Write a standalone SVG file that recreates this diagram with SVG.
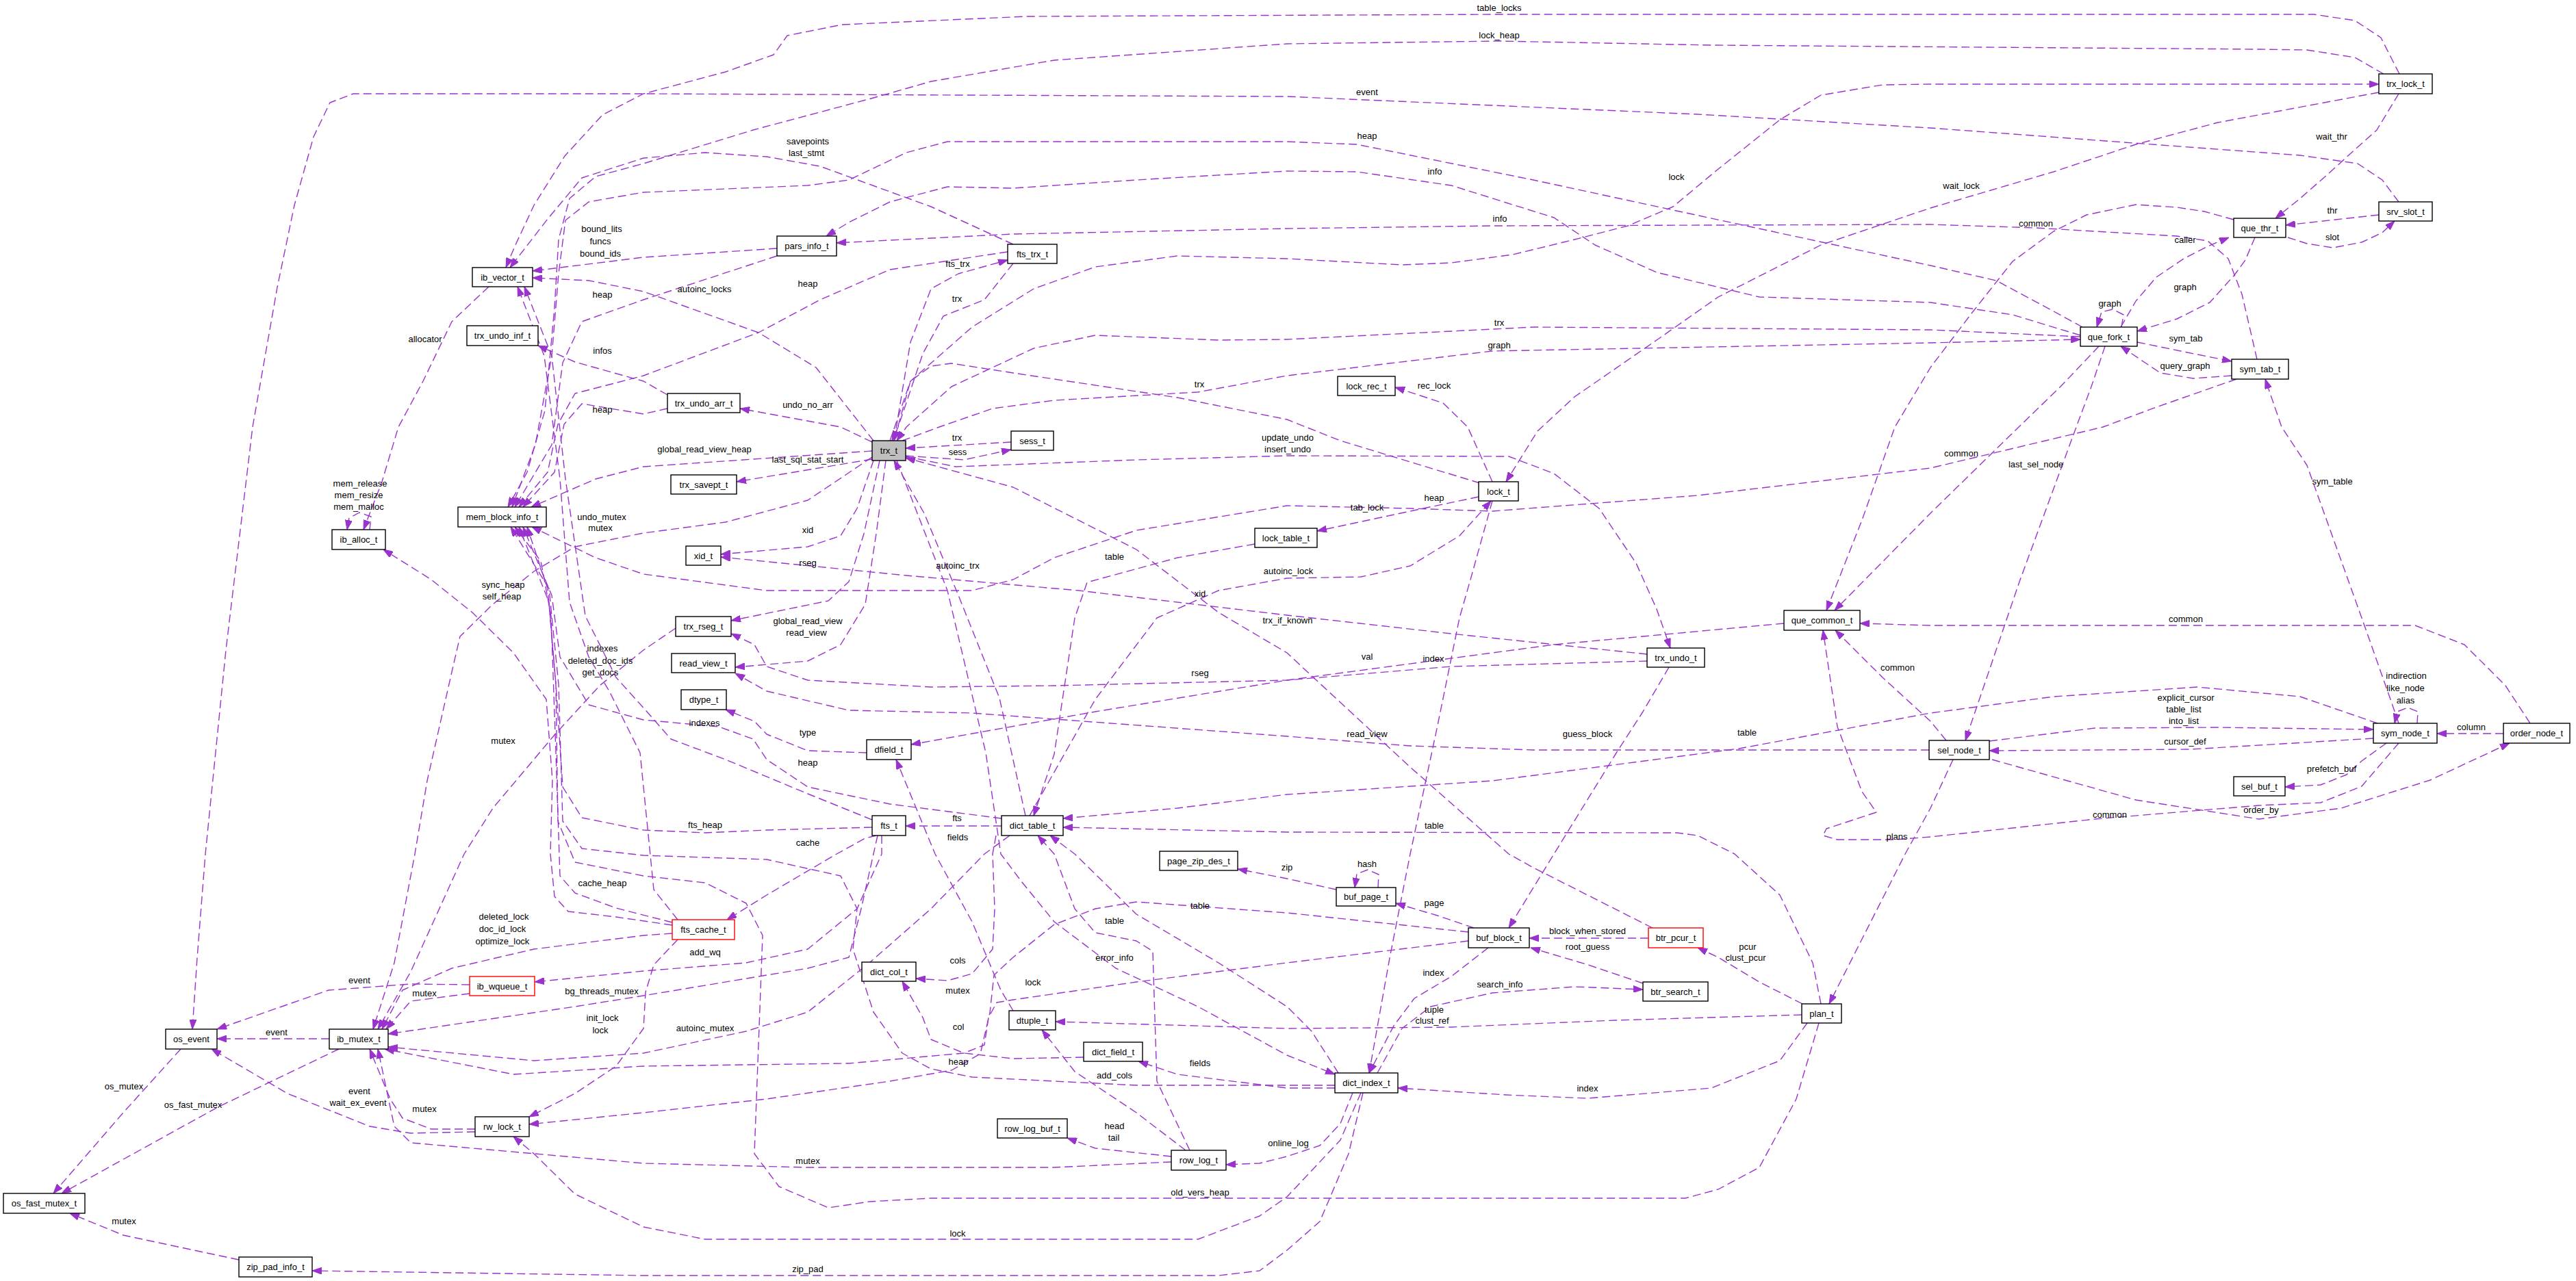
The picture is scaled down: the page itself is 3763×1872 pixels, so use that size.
<svg xmlns="http://www.w3.org/2000/svg" width="3763" height="1872" viewBox="0 0 3763 1872">
<style>
text{font-family:"Liberation Sans",Arial,Helvetica,sans-serif;font-size:13px;fill:#000;text-anchor:middle}
.n rect{fill:#fff;stroke:#000;stroke-width:1.4}
.n.r rect{stroke:#ff0000}
.n.g rect{fill:#bfbfbf}
#connectors path{fill:none;stroke:#9a32cd;stroke-width:1.4;stroke-dasharray:12,6;stroke-linejoin:round;marker-end:url(#a)}
</style>
<defs>
<marker id="a" viewBox="0 0 14 10" refX="14" refY="5" markerWidth="14" markerHeight="10" markerUnits="userSpaceOnUse" orient="auto"><path d="M0,0 L14,5 L0,10 z" fill="#9a32cd" stroke="#9a32cd" stroke-width="1"/></marker>
</defs>
<rect width="3763" height="1872" fill="#fff"/>
<g id="connectors">
<path d="M3505,108 L3478,55 3440,30 3380,21 2190,21 1500,24 1230,36 1150,52 1130,80 1060,105 940,137 880,168 825,228 780,300 752,360 739,391"/>
<path d="M3482,108 L3440,84 3370,73 3300,72 2500,66 2190,60 1880,64 1540,88 1360,119 1276,143 1100,190 940,239 870,258 832,290 816,350 810,450 796,600 770,690 742,741"/>
<path d="M3504,295 L3480,263 3444,239 3360,227 2820,187 2480,167 1880,141 940,137 516,137 482,150 458,200 430,300 405,420 369,624 330,950 300,1248 288,1400 281,1504"/>
<path d="M3042,478 L3000,455 2916,410 2820,388 2240,263 1982,211 1880,207 1384,207 1324,223 1240,263 1180,271 940,281 860,295 826,322 816,400 806,520 782,650 748,741"/>
<path d="M3039,490 L2940,460 2820,442 2570,434 2420,398 2330,358 2270,318 2120,271 1982,251 1880,250 1660,263 1480,275 1384,273 1300,295 1240,325 1207,345"/>
<path d="M3297,525 L3275,430 3255,378 3225,352 3180,345 2974,333 2820,328 2180,330 1880,334 1480,342 1222,355"/>
<path d="M3475,135 L3240,179 3120,211 3000,251 2820,304 2660,358 2510,434 2420,497 2300,580 2246,630 2200,704"/>
<path d="M3504,137 L3472,190 3444,215 3400,255 3360,290 3324,319"/>
<path d="M3475,314 L3339,329"/>
<path d="M3342,347 L3370,356 3408,362 3450,354 3480,340 3498,323"/>
<path d="M3263,321 L3220,309 3180,303 3120,299 3048,314 3000,338 2940,382 2880,458 2820,537 2768,624 2720,760 2668,892"/>
<path d="M3098,478 L3120,440 3150,405 3190,378 3225,360 3256,347"/>
<path d="M3294,347 L3280,380 3264,402 3228,442 3180,466 3122,484"/>
<path d="M3099,478 L3102,460 3086,452 3070,456 3063,478"/>
<path d="M3122,500 L3190,514 3260,528"/>
<path d="M3260,549 L3204,553 3156,545 3132,529 3098,506"/>
<path d="M3066,506 L3010,565 2949,624 2823,747 2680,892"/>
<path d="M3075,506 L3055,565 3033,624 2950,850 2871,1082"/>
<path d="M3504,1057 L3492,1022 3450,903 3370,680 3333,624 3309,554"/>
<path d="M3267,554 L3150,595 3072,624 2820,684 2480,724 2180,747 2060,743 1880,739 1660,775 1540,815 1480,847 1420,863 1240,863 1120,863 940,839 870,815 777,770"/>
<path d="M3657,1072 L3560,1072"/>
<path d="M3696,1057 L3660,1002 3600,942 3528,914 2820,914 2717,911"/>
<path d="M3531,1057 L3532,1040 3517,1034 3502,1040 3498,1057"/>
<path d="M2906,1083 L3060,1064 3240,1063 3467,1066"/>
<path d="M3473,1057 L3360,1018 3210,1004 3000,1018 2820,1042 2540,1094 2180,1141 1880,1161 1720,1181 1553,1196"/>
<path d="M3467,1079 L3200,1095 2906,1097"/>
<path d="M3486,1086 L3450,1112 3428,1132 3390,1147 3338,1150"/>
<path d="M2910,1110 L3120,1169 3300,1197 3420,1181 3550,1140 3666,1086"/>
<path d="M3504,1086 L3450,1149 3390,1173 3300,1177 3060,1197 2820,1223 2768,1227 2684,1227 2663,1221 2668,1211 2741,1187 2720,1157 2684,1062 2663,921"/>
<path d="M2843,1082 L2820,1054 2750,990 2681,921"/>
<path d="M2853,1110 L2820,1181 2783,1248 2672,1467"/>
<path d="M2818,1096 L2240,1096 2060,1090 1880,1076 1420,1042 1240,1038 1120,1010 1074,984"/>
<path d="M2606,911 L2270,942 1880,994 1600,1040 1331,1088"/>
<path d="M2406,956 L2120,926 1880,899 1576,863 1324,841 1053,814"/>
<path d="M2406,966 L2120,974 1880,994 1540,1002 1360,1004 1180,994 1120,974 1102,942 1068,926"/>
<path d="M2180,732 L2150,840 2132,903 2100,1060 2060,1248 2030,1400 2000,1568"/>
<path d="M2438,975 L2400,1040 2360,1102 2270,1248 2204,1356"/>
<path d="M1323,667 L1396,682 1660,672 1880,666 2204,667 2270,692 2336,743 2390,823 2420,890 2440,947"/>
<path d="M2162,706 L1958,644 1880,613 1720,581 1480,545 1390,531 1360,535 1330,557 1306,644"/>
<path d="M2180,704 L2144,624 2108,589 2038,566"/>
<path d="M2160,726 L2060,747 1924,776"/>
<path d="M1833,795 L1720,815 1588,851 1570,903 1540,1102 1510,1192"/>
<path d="M1504,1192 L1600,1022 1690,903 1780,863 1880,845 1988,843 2060,827 2132,783 2178,732"/>
<path d="M1498,1192 L1460,1020 1400,870 1350,750 1306,673"/>
<path d="M1463,1207 L1323,1207"/>
<path d="M1276,673 L1252,743 1228,783 1180,799 1053,810"/>
<path d="M1285,673 L1262,780 1240,850 1210,878 1068,907"/>
<path d="M1294,673 L1280,780 1264,883 1228,942 1180,966 1074,975"/>
<path d="M1274,671 L1076,704"/>
<path d="M1274,659 L940,682 870,700 776,741"/>
<path d="M1274,646 L1228,624 1081,597"/>
<path d="M1276,644 L1192,537 1108,486 940,426 860,410 778,406"/>
<path d="M1306,644 L1330,500 1360,422 1400,400 1472,380"/>
<path d="M1480,385 L1438,438 1378,462 1348,517 1312,624 1303,644"/>
<path d="M1480,357 L1360,302 1198,243 1120,229 1030,223 940,231 850,260 800,320 745,391"/>
<path d="M1472,368 L1300,394 1198,438 1108,486 940,549 840,575 815,620 800,690 758,741"/>
<path d="M1135,363 L940,376 778,396"/>
<path d="M1135,374 L940,438 850,470 822,530 806,650 752,741"/>
<path d="M975,577 L940,557 840,529 786,505"/>
<path d="M975,597 L940,605 850,590 824,620 810,690 764,741"/>
<path d="M714,419 L660,470 618,557 582,624 558,704 531,774"/>
<path d="M540,774 L542,755 525,749 510,757 507,774"/>
<path d="M982,1352 L900,1340 830,1332 810,1310 804,1248 807,1141 798,1022 750,954 690,895 630,847 560,803"/>
<path d="M982,1348 L900,1327 840,1305 818,1280 812,1100 805,900 790,820 752,770"/>
<path d="M990,1344 L955,1300 935,1100 890,1010 860,960 832,880 818,700 795,520 756,419"/>
<path d="M982,1364 L940,1367 780,1387 660,1415 588,1447 558,1504"/>
<path d="M990,1373 L955,1410 943,1450 940,1503 900,1558 840,1598 773,1632"/>
<path d="M1280,1221 L1264,1225 1222,1248 1120,1308 1062,1344"/>
<path d="M1288,1221 L1288,1248 1252,1328 1180,1387 1090,1407 940,1419 781,1435"/>
<path d="M1282,1221 L1258,1328 1240,1399 1180,1415 940,1455 840,1471 567,1511"/>
<path d="M686,1439 L600,1438 480,1447 317,1504"/>
<path d="M686,1452 L600,1463 564,1504"/>
<path d="M481,1518 L317,1518"/>
<path d="M495,1533 L318,1618 90,1744"/>
<path d="M264,1533 L180,1626 78,1744"/>
<path d="M694,1654 L600,1656 540,1646 420,1598 309,1533"/>
<path d="M694,1650 L630,1650 588,1634 570,1606 540,1533"/>
<path d="M1988,1597 L1958,1666 1880,1749 1840,1777 1750,1811 1030,1811 940,1793 840,1745 780,1686 750,1661"/>
<path d="M1991,1597 L1970,1686 1928,1785 1880,1827 1840,1857 1780,1864 940,1864 456,1857"/>
<path d="M349,1841 L180,1805 102,1773"/>
<path d="M1711,1698 L1540,1706 1180,1706 940,1700 600,1670 576,1646 552,1533"/>
<path d="M1475,1221 L1438,1248 1360,1328 1270,1407 1180,1479 1090,1507 940,1539 780,1550 567,1530"/>
<path d="M2145,1375 L1880,1407 1660,1435 1480,1461 1456,1465 1444,1487 1438,1527 1408,1539 1240,1554 940,1558 750,1570 562,1533"/>
<path d="M2145,1362 L1880,1334 1660,1318 1600,1328 1540,1351 1480,1399 1452,1425 1446,1480 1432,1540 1390,1564 1300,1580 1120,1606 940,1626 773,1643"/>
<path d="M1955,1568 L1916,1507 1880,1471 1780,1407 1660,1336 1570,1248 1534,1221"/>
<path d="M1738,1681 L1690,1580 1687,1487 1684,1390 1660,1375 1600,1363 1570,1328 1540,1248 1516,1221"/>
<path d="M1310,673 L1384,863 1440,1100 1462,1248 1492,1288 1540,1347 1630,1415 1750,1471 1880,1542 1950,1570"/>
<path d="M1455,1221 L1450,1248 1453,1328 1450,1387 1420,1423 1384,1433 1338,1430"/>
<path d="M1583,1545 L1480,1547 1408,1539 1360,1519 1348,1487 1318,1434"/>
<path d="M1480,1477 L1462,1447 1420,1347 1366,1248 1309,1110"/>
<path d="M1266,1100 L1180,1097 1120,1073 1102,1054 1060,1037"/>
<path d="M1463,1196 L1300,1175 1180,1150 1120,1110 1100,1080 1050,1062 940,1052 860,1030 818,960 806,870 764,770"/>
<path d="M1274,1209 L1120,1213 1030,1217 940,1213 850,1195 822,1150 812,1000 802,880 758,770"/>
<path d="M1274,1198 L1180,1160 1060,1110 980,1080 945,1040 900,990 855,900 826,700 806,520 766,419"/>
<path d="M1950,1586 L1660,1586 1420,1574 1360,1562 1318,1539 1276,1479 1246,1387 1252,1328 1228,1280 1120,1256 940,1250 850,1240 822,1200 816,1000 802,860 746,770"/>
<path d="M2657,1495 L2624,1606 2570,1706 2510,1738 2462,1751 1880,1751 1360,1751 1270,1756 1210,1765 1138,1734 1102,1686 1114,1367 1090,1320 1030,1290 940,1280 840,1260 815,1200 812,1000 800,860 770,770"/>
<path d="M1950,1590 L1880,1590 1720,1570 1663,1551"/>
<path d="M1732,1681 L1660,1626 1570,1566 1522,1505"/>
<path d="M1711,1690 L1600,1678 1559,1663"/>
<path d="M1976,1597 L1958,1642 1928,1674 1880,1690 1840,1700 1791,1702"/>
<path d="M2640,1495 L2600,1550 2500,1590 2320,1605 2200,1600 2042,1590"/>
<path d="M2632,1483 L2360,1491 2120,1501 1880,1503 1542,1493"/>
<path d="M2633,1467 L2570,1435 2510,1399 2480,1385"/>
<path d="M2408,1371 L2234,1371"/>
<path d="M2400,1437 L2320,1410 2236,1385"/>
<path d="M2012,1568 L2048,1503 2090,1471 2180,1451 2300,1442 2400,1446"/>
<path d="M2174,1385 L2120,1427 2066,1459 2036,1499 2000,1568"/>
<path d="M2153,1356 L2100,1338 2039,1320"/>
<path d="M2013,1297 L2014,1278 1998,1271 1982,1277 1979,1297"/>
<path d="M1952,1300 L1880,1284 1808,1270"/>
<path d="M2660,1467 L2648,1407 2600,1308 2534,1248 2480,1221 2450,1217 1880,1216 1553,1209"/>
<path d="M2414,1356 L2240,1268 2204,1248 2060,1121 1910,982 1880,954 1780,895 1660,803 1480,712 1323,669"/>
<path d="M1323,666 L1408,672 1477,657"/>
<path d="M1477,646 L1323,655"/>
<path d="M1300,644 L1330,557 1420,478 1510,422 1600,390 1720,374 1880,378 2048,387 2120,384 2210,372 2300,350 2378,330 2444,302 2510,247 2600,175 2660,139 2750,124 2820,123 3475,123"/>
<path d="M3039,492 L2820,482 2240,478 1880,496 1780,497 1600,490 1510,509 1390,565 1324,624 1310,644"/>
<path d="M1318,644 L1372,624 1450,597 1540,585 1750,573 1880,549 2180,513 2820,501 3039,496"/>
<path d="M1274,668 L1180,731 1060,763 940,779 840,799 780,835 720,883 672,930 660,982 624,1141 606,1248 576,1407 545,1504"/>
<path d="M987,918 L940,950 876,1002 810,1074 720,1181 678,1248 600,1420 552,1504"/>
</g>
<g id="edge-labels">
<text x="2190" y="16">table_locks</text>
<text x="2190" y="56">lock_heap</text>
<text x="1997" y="139">event</text>
<text x="1997" y="203">heap</text>
<text x="2096" y="255">info</text>
<text x="2449" y="263">lock</text>
<text x="2191" y="324">info</text>
<text x="2190" y="476">trx</text>
<text x="2190" y="509">graph</text>
<text x="2095" y="568">rec_lock</text>
<text x="3406" y="204">wait_thr</text>
<text x="2865" y="276">wait_lock</text>
<text x="3407" y="312">thr</text>
<text x="2974" y="331">common</text>
<text x="3192" y="355">caller</text>
<text x="3407" y="351">slot</text>
<text x="3192" y="424">graph</text>
<text x="3082" y="448">graph</text>
<text x="3193" y="499">sym_tab</text>
<text x="3192" y="539">query_graph</text>
<text x="879" y="339">bound_lits</text>
<text x="877" y="357">funcs</text>
<text x="877" y="375">bound_ids</text>
<text x="880" y="435">heap</text>
<text x="621" y="500">allocator</text>
<text x="880" y="517">infos</text>
<text x="880" y="603">heap</text>
<text x="1180" y="211">savepoints</text>
<text x="1178" y="228">last_stmt</text>
<text x="1029" y="427">autoinc_locks</text>
<text x="1180" y="419">heap</text>
<text x="1399" y="390">fts_trx</text>
<text x="1398" y="441">trx</text>
<text x="1752" y="566">trx</text>
<text x="1180" y="596">undo_no_arr</text>
<text x="526" y="711">mem_release</text>
<text x="524" y="728">mem_resize</text>
<text x="524" y="745">mem_malloc</text>
<text x="879" y="760">undo_mutex</text>
<text x="877" y="776">mutex</text>
<text x="735" y="859">sync_heap</text>
<text x="733" y="876">self_heap</text>
<text x="880" y="952">indexes</text>
<text x="877" y="970">deleted_doc_ids</text>
<text x="877" y="987">get_docs</text>
<text x="735" y="1087">mutex</text>
<text x="1029" y="661">global_read_view_heap</text>
<text x="1398" y="644">trx</text>
<text x="1399" y="665">sess</text>
<text x="1180" y="676">last_sql_stat_start</text>
<text x="1881" y="644">update_undo</text>
<text x="1881" y="661">insert_undo</text>
<text x="1180" y="779">xid</text>
<text x="1180" y="827">rseg</text>
<text x="1399" y="831">autoinc_trx</text>
<text x="1628" y="818">table</text>
<text x="1753" y="872">xid</text>
<text x="1882" y="839">autoinc_lock</text>
<text x="1881" y="911">trx_if_known</text>
<text x="1180" y="912">global_read_view</text>
<text x="1178" y="929">read_view</text>
<text x="1753" y="988">rseg</text>
<text x="1029" y="1061">indexes</text>
<text x="1180" y="1075">type</text>
<text x="1180" y="1119">heap</text>
<text x="1398" y="1200">fts</text>
<text x="1030" y="1210">fts_heap</text>
<text x="1399" y="1228">fields</text>
<text x="1180" y="1236">cache</text>
<text x="2095" y="732">heap</text>
<text x="1997" y="746">tab_lock</text>
<text x="1997" y="964">val</text>
<text x="2094" y="967">index</text>
<text x="1997" y="1077">read_view</text>
<text x="2319" y="1077">guess_block</text>
<text x="2552" y="1075">table</text>
<text x="2772" y="980">common</text>
<text x="2095" y="1211">table</text>
<text x="2771" y="1227">plans</text>
<text x="2865" y="667">common</text>
<text x="2974" y="683">last_sel_node</text>
<text x="3407" y="708">sym_table</text>
<text x="3193" y="909">common</text>
<text x="3515" y="992">indirection</text>
<text x="3514" y="1010">like_node</text>
<text x="3514" y="1028">alias</text>
<text x="3193" y="1024">explicit_cursor</text>
<text x="3190" y="1041">table_list</text>
<text x="3190" y="1058">into_list</text>
<text x="3610" y="1067">column</text>
<text x="3192" y="1088">cursor_def</text>
<text x="3406" y="1128">prefetch_buf</text>
<text x="3303" y="1188">order_by</text>
<text x="3082" y="1195">common</text>
<text x="880" y="1295">cache_heap</text>
<text x="736" y="1344">deleted_lock</text>
<text x="734" y="1362">doc_id_lock</text>
<text x="734" y="1380">optimize_lock</text>
<text x="525" y="1437">event</text>
<text x="620" y="1456">mutex</text>
<text x="879" y="1453">bg_threads_mutex</text>
<text x="880" y="1492">init_lock</text>
<text x="877" y="1510">lock</text>
<text x="404" y="1513">event</text>
<text x="181" y="1592">os_mutex</text>
<text x="525" y="1599">event</text>
<text x="523" y="1616">wait_ex_event</text>
<text x="282" y="1619">os_fast_mutex</text>
<text x="620" y="1625">mutex</text>
<text x="181" y="1789">mutex</text>
<text x="1030" y="1396">add_wq</text>
<text x="1753" y="1328">table</text>
<text x="1628" y="1350">table</text>
<text x="1628" y="1404">error_info</text>
<text x="1399" y="1408">cols</text>
<text x="1509" y="1440">lock</text>
<text x="1399" y="1452">mutex</text>
<text x="1030" y="1507">autoinc_mutex</text>
<text x="1400" y="1505">col</text>
<text x="1400" y="1556">heap</text>
<text x="1753" y="1558">fields</text>
<text x="1628" y="1576">add_cols</text>
<text x="1628" y="1650">head</text>
<text x="1627" y="1667">tail</text>
<text x="1882" y="1675">online_log</text>
<text x="1180" y="1701">mutex</text>
<text x="1753" y="1747">old_vers_heap</text>
<text x="1399" y="1807">lock</text>
<text x="1180" y="1859">zip_pad</text>
<text x="1997" y="1267">hash</text>
<text x="1880" y="1272">zip</text>
<text x="2095" y="1324">page</text>
<text x="2319" y="1365">block_when_stored</text>
<text x="2319" y="1388">root_guess</text>
<text x="2553" y="1388">pcur</text>
<text x="2550" y="1404">clust_pcur</text>
<text x="2094" y="1426">index</text>
<text x="2191" y="1443">search_info</text>
<text x="2095" y="1480">tuple</text>
<text x="2092" y="1496">clust_ref</text>
<text x="2319" y="1595">index</text>
</g>
<g id="nodes">
<g id="ib_vector_t" class="n"><rect x="690" y="391" width="88" height="28"/><text x="734" y="409.5">ib_vector_t</text></g>
<g id="trx_undo_inf_t" class="n"><rect x="682" y="476" width="104" height="29"/><text x="734" y="495">trx_undo_inf_t</text></g>
<g id="pars_info_t" class="n"><rect x="1135" y="345" width="87" height="29"/><text x="1178.5" y="364">pars_info_t</text></g>
<g id="fts_trx_t" class="n"><rect x="1472" y="357" width="72" height="28"/><text x="1508" y="375.5">fts_trx_t</text></g>
<g id="trx_undo_arr_t" class="n"><rect x="975" y="575" width="106" height="28"/><text x="1028" y="593.5">trx_undo_arr_t</text></g>
<g id="lock_rec_t" class="n"><rect x="1954" y="550" width="84" height="28"/><text x="1996" y="568.5">lock_rec_t</text></g>
<g id="trx_lock_t" class="n"><rect x="3475" y="108" width="78" height="29"/><text x="3514" y="127">trx_lock_t</text></g>
<g id="srv_slot_t" class="n"><rect x="3475" y="295" width="78" height="28"/><text x="3514" y="313.5">srv_slot_t</text></g>
<g id="que_thr_t" class="n"><rect x="3263" y="319" width="76" height="28"/><text x="3301" y="337.5">que_thr_t</text></g>
<g id="que_fork_t" class="n"><rect x="3039" y="478" width="83" height="28"/><text x="3080.5" y="496.5">que_fork_t</text></g>
<g id="sym_tab_t" class="n"><rect x="3260" y="525" width="83" height="29"/><text x="3301.5" y="544">sym_tab_t</text></g>
<g id="mem_block_info_t" class="n"><rect x="669" y="741" width="129" height="29"/><text x="733.5" y="760">mem_block_info_t</text></g>
<g id="ib_alloc_t" class="n"><rect x="485" y="774" width="78" height="29"/><text x="524" y="793">ib_alloc_t</text></g>
<g id="trx_t" class="n g"><rect x="1274" y="644" width="49" height="29"/><text x="1298.5" y="663">trx_t</text></g>
<g id="sess_t" class="n"><rect x="1477" y="630" width="62" height="28"/><text x="1508" y="648.5">sess_t</text></g>
<g id="trx_savept_t" class="n"><rect x="980" y="694" width="96" height="28"/><text x="1028" y="712.5">trx_savept_t</text></g>
<g id="xid_t" class="n"><rect x="1002" y="798" width="51" height="28"/><text x="1027.5" y="816.5">xid_t</text></g>
<g id="trx_rseg_t" class="n"><rect x="987" y="901" width="81" height="29"/><text x="1027.5" y="920">trx_rseg_t</text></g>
<g id="read_view_t" class="n"><rect x="981" y="955" width="93" height="28"/><text x="1027.5" y="973.5">read_view_t</text></g>
<g id="dtype_t" class="n"><rect x="995" y="1008" width="66" height="29"/><text x="1028" y="1027">dtype_t</text></g>
<g id="dfield_t" class="n"><rect x="1266" y="1081" width="65" height="29"/><text x="1298.5" y="1100">dfield_t</text></g>
<g id="fts_t" class="n"><rect x="1274" y="1192" width="49" height="29"/><text x="1298.5" y="1211">fts_t</text></g>
<g id="dict_table_t" class="n"><rect x="1463" y="1192" width="90" height="29"/><text x="1508" y="1211">dict_table_t</text></g>
<g id="lock_table_t" class="n"><rect x="1833" y="772" width="91" height="28"/><text x="1878.5" y="790.5">lock_table_t</text></g>
<g id="lock_t" class="n"><rect x="2160" y="704" width="58" height="28"/><text x="2189" y="722.5">lock_t</text></g>
<g id="trx_undo_t" class="n"><rect x="2406" y="947" width="84" height="28"/><text x="2448" y="965.5">trx_undo_t</text></g>
<g id="que_common_t" class="n"><rect x="2606" y="892" width="111" height="29"/><text x="2661.5" y="911">que_common_t</text></g>
<g id="sel_node_t" class="n"><rect x="2818" y="1082" width="88" height="28"/><text x="2862" y="1100.5">sel_node_t</text></g>
<g id="sym_node_t" class="n"><rect x="3467" y="1057" width="93" height="29"/><text x="3513.5" y="1076">sym_node_t</text></g>
<g id="order_node_t" class="n"><rect x="3657" y="1057" width="97" height="29"/><text x="3705.5" y="1076">order_node_t</text></g>
<g id="sel_buf_t" class="n"><rect x="3263" y="1135" width="75" height="28"/><text x="3300.5" y="1153.5">sel_buf_t</text></g>
<g id="os_event" class="n"><rect x="242" y="1504" width="75" height="29"/><text x="279.5" y="1523">os_event</text></g>
<g id="ib_mutex_t" class="n"><rect x="481" y="1504" width="86" height="29"/><text x="524" y="1523">ib_mutex_t</text></g>
<g id="ib_wqueue_t" class="n r"><rect x="686" y="1427" width="95" height="28"/><text x="733.5" y="1445.5">ib_wqueue_t</text></g>
<g id="rw_lock_t" class="n"><rect x="694" y="1632" width="79" height="29"/><text x="733.5" y="1651">rw_lock_t</text></g>
<g id="os_fast_mutex_t" class="n"><rect x="5" y="1744" width="119" height="29"/><text x="64.5" y="1763">os_fast_mutex_t</text></g>
<g id="zip_pad_info_t" class="n"><rect x="349" y="1837" width="107" height="29"/><text x="402.5" y="1856">zip_pad_info_t</text></g>
<g id="fts_cache_t" class="n r"><rect x="982" y="1344" width="91" height="29"/><text x="1027.5" y="1363">fts_cache_t</text></g>
<g id="dict_col_t" class="n"><rect x="1259" y="1406" width="79" height="28"/><text x="1298.5" y="1424.5">dict_col_t</text></g>
<g id="dtuple_t" class="n"><rect x="1474" y="1477" width="68" height="28"/><text x="1508" y="1495.5">dtuple_t</text></g>
<g id="dict_field_t" class="n"><rect x="1583" y="1523" width="86" height="28"/><text x="1626" y="1541.5">dict_field_t</text></g>
<g id="row_log_buf_t" class="n"><rect x="1457" y="1635" width="102" height="28"/><text x="1508" y="1653.5">row_log_buf_t</text></g>
<g id="row_log_t" class="n"><rect x="1711" y="1681" width="80" height="29"/><text x="1751" y="1700">row_log_t</text></g>
<g id="page_zip_des_t" class="n"><rect x="1694" y="1244" width="114" height="28"/><text x="1751" y="1262.5">page_zip_des_t</text></g>
<g id="buf_page_t" class="n"><rect x="1952" y="1297" width="87" height="27"/><text x="1995.5" y="1315">buf_page_t</text></g>
<g id="buf_block_t" class="n"><rect x="2145" y="1356" width="89" height="29"/><text x="2189.5" y="1375">buf_block_t</text></g>
<g id="btr_pcur_t" class="n r"><rect x="2408" y="1356" width="80" height="29"/><text x="2448" y="1375">btr_pcur_t</text></g>
<g id="btr_search_t" class="n"><rect x="2400" y="1435" width="95" height="28"/><text x="2447.5" y="1453.5">btr_search_t</text></g>
<g id="plan_t" class="n"><rect x="2632" y="1467" width="58" height="28"/><text x="2661" y="1485.5">plan_t</text></g>
<g id="dict_index_t" class="n"><rect x="1950" y="1568" width="92" height="29"/><text x="1996" y="1587">dict_index_t</text></g>
</g>
</svg>
